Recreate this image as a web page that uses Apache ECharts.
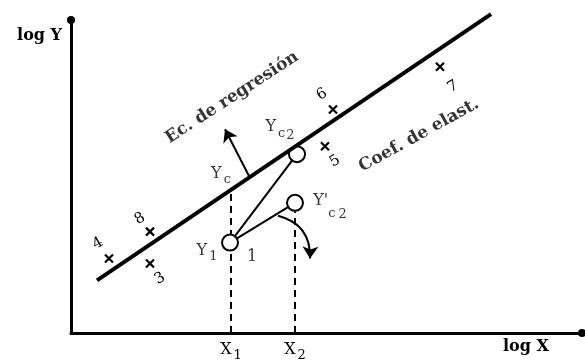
<!DOCTYPE html>
<html>
<head>
<meta charset="utf-8">
<script src="https://cdn.jsdelivr.net/npm/echarts@6/dist/echarts.min.js"></script>
<style>
  html, body { margin: 0; padding: 0; background: #fff; }
  #main { width: 585px; height: 362px; }
</style>
</head>
<body>
<div id="main"></div>
<script>
// data (log X, log Y in arbitrary units)
const regLine = [[26, 53], [420, 321]];
const obsNames = ['4', '8', '3', '6', '5', '7'];
const obsX = [38, 79, 79, 262, 254, 369];
const obsY = [75, 102, 70, 225, 188, 268];
const ptNames = ['Y1', 'Yc2', "Y'c2"];
const ptX = [159, 226, 224];
const ptY = [91, 180, 131];
const ycFoot = [160, 142];
const xTickValues = [160, 224];
const xTickLabels = ['X1', 'X2'];
const guideTop = [141, 122];
const normalArrow = [[179, 156], [154, 205]];
const curvedArrow = [[207, 118], [239, 75]];
const notes = [
  ['Y1', 136, 83], ['1', 181, 77], ['Yc', 150, 160], ['Yc2', 209, 207], ["Y'c2", 259, 133]
];
const captions = [['Ec. de regresión', 161, 237, 33], ['Coef. de elast.', 348, 199, 29]];

const FONT = 'DejaVu Serif';
const cross = 'path://M0,0L10,10M10,0L0,10';

var chartDom = document.getElementById('main');
var myChart = echarts.init(chartDom);

// where each number sits around its "x" mark (screen px), turned into the rotated label frame
const numOffset = { '4': [-11, -15], '8': [-10, -13], '3': [10, 15], '6': [-11, -15], '5': [10, 15], '7': [13, 20] };
const NUM_ROT = 30;
function localOffset(d) {
  const r = NUM_ROT * Math.PI / 180, c = Math.cos(r), s = Math.sin(r);
  return [d[0] * c - d[1] * s, d[0] * s + d[1] * c];
}

const rich = {
  b: { fontFamily: FONT, fontSize: 16, color: '#000' },
  s: { fontFamily: FONT, fontSize: 13, color: '#000', padding: [12, 0, 0, 2] },
  s2: { fontFamily: FONT, fontSize: 13, color: '#000', padding: [17, 0, 0, 1] },
  d: { fontFamily: FONT, fontSize: 13, color: '#000', padding: [26, 0, 0, 0] },
  d2: { fontFamily: FONT, fontSize: 13, color: '#000', padding: [28, 0, 0, 3] }
};
function fmtNote(n) {
  if (n === 'Y1') return '{b|Y}{s|1}';
  if (n === 'Yc') return '{b|Y}{s|c}';
  if (n === 'Yc2') return '{b|Y}{s|c}{s2|2}';
  if (n === "Y'c2") return "{b|Y'}{d|c}{d2|2}";
  return '{b|' + n + '}';
}

const option = {
  animation: false,
  backgroundColor: '#fff',
  grid: { left: 71, right: 3, top: 20, bottom: 27 },
  xAxis: {
    type: 'value', min: 0, max: 511,
    splitLine: { show: false },
    axisLine: { lineStyle: { color: '#000', width: 3 }, symbol: ['none', 'circle'], symbolSize: [8, 8] },
    axisTick: { show: true, customValues: xTickValues, inside: true, length: 5, lineStyle: { color: '#000', width: 2 } },
    axisLabel: {
      customValues: xTickValues, margin: 4,
      formatter: v => {
        const i = xTickValues.indexOf(v);
        return i < 0 ? '' : '{b|X}{s|' + xTickLabels[i].slice(1) + '}';
      },
      rich: rich
    },
    name: 'log X', nameLocation: 'end', nameGap: -79,
    nameTextStyle: { fontFamily: FONT, fontSize: 16, fontWeight: 'bold', color: '#000', align: 'left', verticalAlign: 'top', padding: [6, 0, 0, 0] }
  },
  yAxis: {
    type: 'value', min: 0, max: 315,
    splitLine: { show: false },
    axisLine: { lineStyle: { color: '#000', width: 3 }, symbol: ['none', 'circle'], symbolSize: [8, 8] },
    axisTick: { show: false },
    axisLabel: { show: false },
    name: 'log Y', nameLocation: 'end', nameGap: -16,
    nameTextStyle: { fontFamily: FONT, fontSize: 16, fontWeight: 'bold', color: '#000', align: 'right', verticalAlign: 'middle', padding: [0, 9, 0, 0] }
  },
  series: [
    {
      name: 'regresion', type: 'line', data: regLine, symbol: 'none', clip: false, z: 5,
      lineStyle: { color: '#000', width: 4 }
    },
    {
      name: 'guias', type: 'lines', coordinateSystem: 'cartesian2d', z: 2,
      lineStyle: { color: '#000', width: 2, opacity: 1, type: [7, 5] },
      data: xTickValues.map((v, i) => ({ coords: [[v, 0], [v, i === 0 ? ycFoot[1] : guideTop[i]]] }))
    },
    {
      name: 'enlaces', type: 'lines', coordinateSystem: 'cartesian2d', z: 2,
      lineStyle: { color: '#000', width: 2, opacity: 1 },
      data: [
        { coords: [[ptX[0], ptY[0]], [ptX[1], ptY[1]]] },
        { coords: [[ptX[0], ptY[0]], [ptX[2], ptY[2]]] }
      ]
    },
    {
      name: 'flechas', type: 'lines', coordinateSystem: 'cartesian2d', z: 4,
      symbol: ['none', 'arrow'], symbolSize: 12,
      lineStyle: { color: '#000', width: 2, opacity: 1 },
      itemStyle: { color: '#000' },
      data: [
        { coords: normalArrow, lineStyle: { curveness: 0 } },
        { coords: curvedArrow, lineStyle: { curveness: 0.4 } }
      ]
    },
    {
      name: 'puntos', type: 'scatter', z: 3,
      symbol: 'circle', symbolSize: 16,
      itemStyle: { color: '#fff', borderColor: '#000', borderWidth: 2, opacity: 1 },
      data: ptNames.map((n, i) => ({ name: n, value: [ptX[i], ptY[i]] }))
    },
    {
      name: 'observaciones', type: 'scatter', z: 6,
      symbol: cross, symbolSize: 8,
      itemStyle: { color: 'none', borderColor: '#000', borderWidth: 2.2, opacity: 1 },
      data: obsNames.map((n, i) => ({
        name: n, value: [obsX[i], obsY[i]],
        label: { show: true, position: 'inside', offset: localOffset(numOffset[n]), rotate: NUM_ROT, formatter: n,
          fontFamily: FONT, fontSize: 15, color: '#000' }
      }))
    },
    {
      name: 'notas', type: 'scatter', z: 7, symbolSize: 0, silent: true,
      data: notes.map(d => ({ name: d[0], value: [d[1], d[2]] })),
      label: { show: true, position: 'inside', formatter: p => fmtNote(p.name), rich: rich }
    },
    {
      name: 'titulos', type: 'scatter', z: 7, symbolSize: 0, silent: true,
      data: captions.map(d => ({
        name: d[0], value: [d[1], d[2]],
        label: { show: true, position: 'inside', rotate: d[3], formatter: d[0],
          fontFamily: FONT, fontSize: 17, color: '#000', fontWeight: 'bold' }
      }))
    }
  ]
};
option && myChart.setOption(option);
window.addEventListener('resize', () => { myChart.resize(); });
</script>
</body>
</html>
